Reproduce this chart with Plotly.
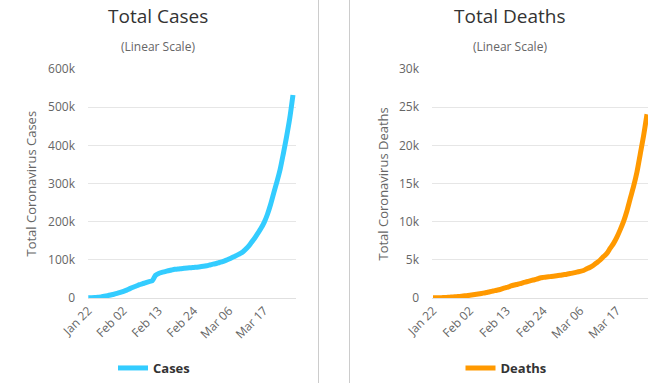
import plotly.graph_objects as go
import datetime as dt

start = dt.date(2020, 1, 22)
dates = [(start + dt.timedelta(days=i)).strftime("%b %d") for i in range(65)]

cases = [580, 845, 1317, 2015, 2800, 4581, 6058, 7813, 9823, 11950,
         14553, 17391, 20630, 24545, 28266, 31439, 34876, 37552, 40553, 43099,
         45134, 59287, 64438, 67100, 69197, 71329, 73332, 75184, 75700, 76677,
         77673, 78651, 79205, 80087, 80828, 81820, 83112, 84615, 86604, 88585,
         90443, 93016, 95314, 98425, 102050, 106099, 109991, 114381, 118948, 126214,
         134576, 145483, 156653, 169593, 182490, 198238, 218822, 244933, 275597, 305036,
         337459, 378830, 422574, 471035, 531865]

deaths = [17, 25, 41, 56, 80, 106, 132, 170, 213, 259,
          304, 362, 426, 492, 565, 638, 724, 813, 910, 1018,
          1115, 1261, 1383, 1526, 1669, 1775, 1873, 2009, 2126, 2247,
          2360, 2460, 2618, 2699, 2763, 2800, 2858, 2923, 2977, 3050,
          3117, 3202, 3285, 3387, 3494, 3599, 3827, 4025, 4296, 4628,
          4981, 5428, 5833, 6520, 7160, 7975, 8959, 10032, 11392, 13049,
          14643, 16516, 18906, 21296, 24073]

tick_labels = ["Jan 22", "Feb 02", "Feb 13", "Feb 24", "Mar 06", "Mar 17"]
cases_ticks = [0, 100000, 200000, 300000, 400000, 500000, 600000]
cases_tick_text = ["0", "100k", "200k", "300k", "400k", "500k", "600k"]
deaths_ticks = [0, 5000, 10000, 15000, 20000, 25000, 30000]
deaths_tick_text = ["0", "5k", "10k", "15k", "20k", "25k", "30k"]

FONT = "Open Sans"
W, H = 666, 383

fig = go.Figure()
fig.add_trace(go.Scatter(x=dates, y=cases, name="Cases", mode="lines",
                         line=dict(color="#33CCFF", width=5, shape="spline", smoothing=0.7),
                         xaxis="x", yaxis="y", legend="legend"))
fig.add_trace(go.Scatter(x=dates, y=deaths, name="Deaths", mode="lines",
                         line=dict(color="#FF9900", width=5, shape="spline", smoothing=0.7),
                         xaxis="x2", yaxis="y2", legend="legend2"))

def px_x(p):
    return p / W

def px_y(p):
    return (H - p) / H

tick_font = dict(family=FONT, size=12, color="#666666")
xcommon = dict(type="category", tickmode="array", tickvals=tick_labels, ticktext=tick_labels,
               tickangle=-45, tickfont=tick_font, showgrid=False, showline=True,
               linecolor="#e0e0e0", linewidth=1, ticks="", zeroline=False, fixedrange=True,
               automargin=False)
ycommon = dict(tickfont=tick_font, showgrid=True, gridcolor="#e6e6e6", gridwidth=1,
               zeroline=False, showline=False, ticks="", ticklabelstandoff=12,
               automargin=False, fixedrange=True)

fig.update_layout(
    width=W, height=H,
    margin=dict(l=0, r=0, t=0, b=0, autoexpand=False),
    paper_bgcolor="white", plot_bgcolor="white",
    font=dict(family=FONT, color="#666666"),
    hovermode=False,
    xaxis=dict(domain=[px_x(88), px_x(296)], range=[-0.1, 64.95], anchor="y", **xcommon),
    yaxis=dict(domain=[px_y(298), px_y(69)], range=[0, 600000], anchor="x",
               tickvals=cases_ticks, ticktext=cases_tick_text, **ycommon),
    xaxis2=dict(domain=[px_x(432), px_x(648)], range=[-0.3, 64.3], anchor="y2", **xcommon),
    yaxis2=dict(domain=[px_y(298), px_y(69)], range=[0, 30000], anchor="x2",
                tickvals=deaths_ticks, ticktext=deaths_tick_text, **ycommon),
    legend=dict(x=px_x(154), y=px_y(368), xanchor="center", yanchor="middle",
                orientation="h", itemwidth=30,
                font=dict(family=FONT, size=13, color="#333333", weight="bold")),
    legend2=dict(x=px_x(506), y=px_y(368), xanchor="center", yanchor="middle",
                 orientation="h", itemwidth=30,
                 font=dict(family=FONT, size=13, color="#333333", weight="bold")),
    showlegend=True,
)

annotations = [
    dict(text="Total Cases", x=px_x(158), y=px_y(16), font=dict(family=FONT, size=19, color="#333333")),
    dict(text="(Linear Scale)", x=px_x(158), y=px_y(46), font=dict(family=FONT, size=12, color="#666666")),
    dict(text="Total Deaths", x=px_x(510), y=px_y(16), font=dict(family=FONT, size=19, color="#333333")),
    dict(text="(Linear Scale)", x=px_x(510), y=px_y(46), font=dict(family=FONT, size=12, color="#666666")),
    dict(text="Total Coronavirus Cases", x=px_x(30), y=px_y(183.5), textangle=-90,
         font=dict(family=FONT, size=13, color="#666666")),
    dict(text="Total Coronavirus Deaths", x=px_x(382), y=px_y(183.5), textangle=-90,
         font=dict(family=FONT, size=13, color="#666666")),
]
for a in annotations:
    a.update(xref="paper", yref="paper", showarrow=False, xanchor="center", yanchor="middle")
fig.update_layout(annotations=annotations)

fig.update_layout(shapes=[
    dict(type="line", xref="paper", yref="paper", x0=px_x(318.5), x1=px_x(318.5), y0=0, y1=1,
         line=dict(color="#cccccc", width=1)),
    dict(type="line", xref="paper", yref="paper", x0=px_x(349.5), x1=px_x(349.5), y0=0, y1=1,
         line=dict(color="#cccccc", width=1)),
])

fig.write_html("out.html", config={"displayModeBar": False},
               post_script="document.body.style.margin='0';document.body.style.overflow='hidden';")
